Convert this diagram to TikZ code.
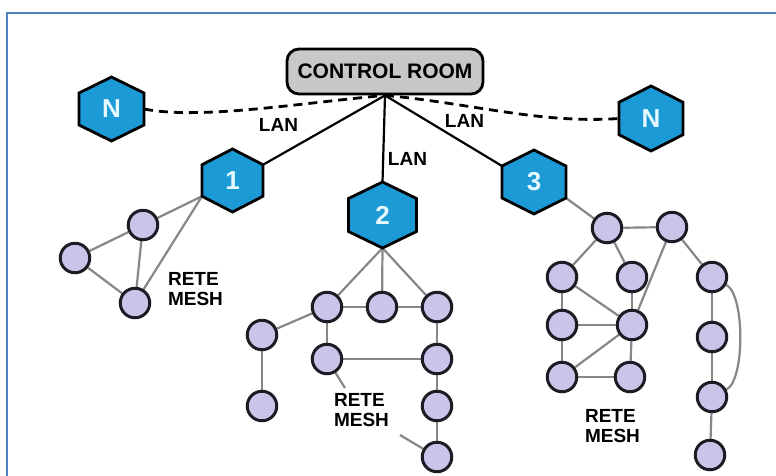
\documentclass[tikz,border=0pt]{standalone}
\usepackage{fontspec}
\setmainfont{Liberation Sans}
\usetikzlibrary{backgrounds}
\definecolor{hexblue}{RGB}{28,154,214}
\definecolor{hextext}{RGB}{228,248,255}
\definecolor{nodefill}{RGB}{202,196,233}
\definecolor{nodeline}{RGB}{28,28,36}
\definecolor{edgegray}{RGB}{135,135,135}
\definecolor{roomgray}{RGB}{200,200,200}
\definecolor{frameblue}{RGB}{79,129,189}
\newcommand{\hexat}[6]{%
  \coordinate (#1-t) at (#2,#3-#5);
  \coordinate (#1-ur) at (#2+#4,#3-#5/2);
  \coordinate (#1-lr) at (#2+#4,#3+#5/2);
  \coordinate (#1-b) at (#2,#3+#5);
  \coordinate (#1-ll) at (#2-#4,#3+#5/2);
  \coordinate (#1-ul) at (#2-#4,#3-#5/2);
  \coordinate (#1-r) at (#2+#4,#3);
  \coordinate (#1-l) at (#2-#4,#3);
  \filldraw[hexshape] (#1-t)--(#1-ur)--(#1-lr)--(#1-b)--(#1-ll)--(#1-ul)--cycle;
  \node[hexlabel] (#1) at (#2,#3) {#6};
}
\begin{document}
\begin{tikzpicture}[x=1pt,y=-1pt,
  hexshape/.style={fill=hexblue,draw=black,line width=2.8pt,line join=miter},
  hexlabel/.style={text=hextext,font=\fontsize{26}{26}\selectfont\bfseries,inner sep=0pt},
  cnode/.style={circle,fill=nodefill,draw=nodeline,line width=3pt,minimum size=29.5pt,inner sep=0pt},
  room/.style={rounded corners=12pt,fill=roomgray,draw=black,line width=2.8pt,minimum width=196pt,minimum height=45pt,inner sep=0pt,font=\fontsize{21}{21}\selectfont\bfseries},
  lan/.style={draw=black,line width=2.2pt},
  dashlink/.style={draw=black,line width=2.8pt,dash pattern=on 9pt off 6pt},
  mesh/.style={draw=edgegray,line width=2.2pt},
  lbl/.style={font=\fontsize{19}{20}\selectfont\bfseries,inner sep=0pt,text=black},
  meshlbl/.style={font=\fontsize{19}{20}\selectfont\bfseries,inner sep=0pt,text=black,align=left},
  frame/.style={draw=frameblue,line width=2.5pt}
]
\useasboundingbox (0,0) rectangle (776,475);
\begin{scope}[on background layer]
  \fill[white] (0,0) rectangle (776,475);
\end{scope}
\draw[frame] (7,476) -- (7,13) -- (777,13);

% control room
\node[room] (cr) at (385,71.5) {CONTROL ROOM};

% hexagons
\hexat{nl}{111.5}{109}{32.5}{32}{N}
\hexat{nr}{651}{118.5}{32}{32.5}{N}
\hexat{h1}{232.5}{180.5}{30.5}{31.5}{1}
\hexat{h2}{382.5}{215}{34}{33}{2}
\hexat{h3}{534}{182}{32}{32}{3}

% LAN links
\draw[dashlink] (nl-r) .. controls (200,120) and (300,103) .. (cr.south);
\draw[dashlink] (cr.south) .. controls (470,103) and (540,124) .. (nr-l);
\draw[lan] (cr.south) -- (h1-ur);
\draw[lan] (cr.south) -- (h2-t);
\draw[lan] (cr.south) -- (h3-ul);

\node[lbl] (lanl) at (278.5,125) {LAN};
\node[lbl] (lanr) at (464.5,121) {LAN};
\node[lbl] (lanm) at (407.5,159) {LAN};

% mesh 1
\node[cnode] (c1a) at (143,225) {};
\node[cnode] (c1b) at (75,258) {};
\node[cnode] (c1c) at (135,303) {};
% mesh 2
\node[cnode] (c2a) at (327,307) {};
\node[cnode] (c2b) at (382,307) {};
\node[cnode] (c2c) at (437,307) {};
\node[cnode] (c2d) at (262,335) {};
\node[cnode] (c2e) at (327,359) {};
\node[cnode] (c2f) at (437,359) {};
\node[cnode] (c2g) at (262,406) {};
\node[cnode] (c2h) at (437,406) {};
\node[cnode] (c2i) at (437,457) {};
% mesh 3
\node[cnode] (c3a) at (607,228) {};
\node[cnode] (c3b) at (672,227) {};
\node[cnode] (c3c) at (562,277) {};
\node[cnode] (c3d) at (632,277) {};
\node[cnode] (c3e) at (712,277) {};
\node[cnode] (c3f) at (562,325) {};
\node[cnode] (c3g) at (632,325) {};
\node[cnode] (c3h) at (712,337) {};
\node[cnode] (c3i) at (562,377) {};
\node[cnode] (c3j) at (630,377) {};
\node[cnode] (c3k) at (712,397) {};
\node[cnode] (c3l) at (710,455) {};

\coordinate (lead1) at (345,388);
\coordinate (lead2) at (400,435);

\begin{scope}[on background layer]
  \draw[mesh] (h1-ll) -- (c1a);
  \draw[mesh] (h1-ll) -- (c1c);
  \draw[mesh] (c1a) -- (c1b);
  \draw[mesh] (c1a) -- (c1c);
  \draw[mesh] (c1b) -- (c1c);

  \draw[mesh] (h2-b) -- (c2a);
  \draw[mesh] (h2-b) -- (c2b);
  \draw[mesh] (h2-b) -- (c2c);
  \draw[mesh] (c2a) -- (c2b);
  \draw[mesh] (c2b) -- (c2c);
  \draw[mesh] (c2a) -- (c2d);
  \draw[mesh] (c2a) -- (c2e);
  \draw[mesh] (c2c) -- (c2f);
  \draw[mesh] (c2e) -- (c2f);
  \draw[mesh] (c2f) -- (c2h);
  \draw[mesh] (c2h) -- (c2i);
  \draw[mesh] (c2d) -- (c2g);
  \draw[mesh] (c2e) -- (lead1);
  \draw[mesh] (lead2) -- (c2i);

  \draw[mesh] (h3-lr) -- (c3a);
  \draw[mesh] (c3a) -- (c3b);
  \draw[mesh] (c3a) -- (c3c);
  \draw[mesh] (c3a) -- (c3d);
  \draw[mesh] (c3b) -- (c3g);
  \draw[mesh] (c3b) -- (c3e);
  \draw[mesh] (c3c) -- (c3f);
  \draw[mesh] (c3c) -- (c3g);
  \draw[mesh] (c3d) -- (c3g);
  \draw[mesh] (c3f) -- (c3g);
  \draw[mesh] (c3f) -- (c3i);
  \draw[mesh] (c3i) -- (c3g);
  \draw[mesh] (c3i) -- (c3j);
  \draw[mesh] (c3g) -- (c3j);
  \draw[mesh] (c3e) -- (c3h);
  \draw[mesh] (c3h) -- (c3k);
  \draw[mesh] (c3k) -- (c3l);
  \draw[mesh] (c3e) .. controls (745,295) and (745,380) .. (c3k);
\end{scope}

\node[meshlbl] (rm1) at (195.5,289.5) {RETE\\MESH};
\node[meshlbl] (rm2) at (361.5,410) {RETE\\MESH};
\node[meshlbl] (rm3) at (612.5,426.5) {RETE\\MESH};
\end{tikzpicture}
\end{document}
